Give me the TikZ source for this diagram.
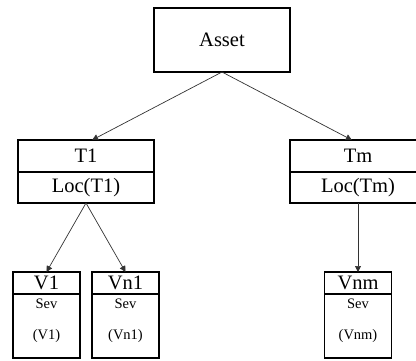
\documentclass[tikz,border=0pt]{standalone}
\usepackage{fontspec}
\setmainfont{Liberation Serif}
\usetikzlibrary{arrows.meta}
\usetikzlibrary{positioning}

\begin{document}
\begin{tikzpicture}[x=1pt,y=-1pt,
  head/.style={draw,line width=1.2pt,inner sep=0pt,outer sep=0pt,
               font=\fontsize{20.5}{24}\selectfont},
  sev/.style={draw,line width=1.2pt,inner sep=0pt,outer sep=0pt,
              minimum width=67pt,minimum height=64pt,align=center,
              text depth=14pt,font=\fontsize{14.5}{31}\selectfont},
  link/.style={-{Triangle[length=6pt,width=6pt]},line width=0.7pt,black!80}]

% page frame
\useasboundingbox (0,0) rectangle (416,360);
\clip (0,0) rectangle (416,360);

% root
\node[head,minimum width=136pt,minimum height=64pt] (asset) at (222,40) {Asset};

% threats
\node[head,minimum width=136pt,minimum height=32pt] (t1) at (86,156) {T1};
\node[head,minimum width=136pt,minimum height=31pt,below=0pt of t1] (t1loc) {Loc(T1)};

\node[head,minimum width=136pt,minimum height=32pt] (tm) at (358,156) {Tm};
\node[head,minimum width=136pt,minimum height=31pt,below=0pt of tm] (tmloc) {Loc(Tm)};

% vulnerabilities
\node[head,minimum width=67pt,minimum height=22pt] (v1) at (46.5,283) {V1};
\node[sev,below=0pt of v1] (v1sev) {Sev\\(V1)};

\node[head,minimum width=67pt,minimum height=22pt] (vn1) at (125.5,283) {Vn1};
\node[sev,below=0pt of vn1] (vn1sev) {Sev\\(Vn1)};

\node[head,minimum width=67pt,minimum height=22pt] (vnm) at (358,283) {Vnm};
\node[sev,below=0pt of vnm] (vnmsev) {Sev\\(Vnm)};

% arrows
\draw[link] (asset.south) -- (t1.69);
\draw[link] (asset.south) -- (tm.111);
\draw[link] (t1loc.south) -- (v1.north);
\draw[link] (t1loc.south) -- (vn1.north);
\draw[link] (tmloc.south) -- (vnm.north);

\end{tikzpicture}
\end{document}
